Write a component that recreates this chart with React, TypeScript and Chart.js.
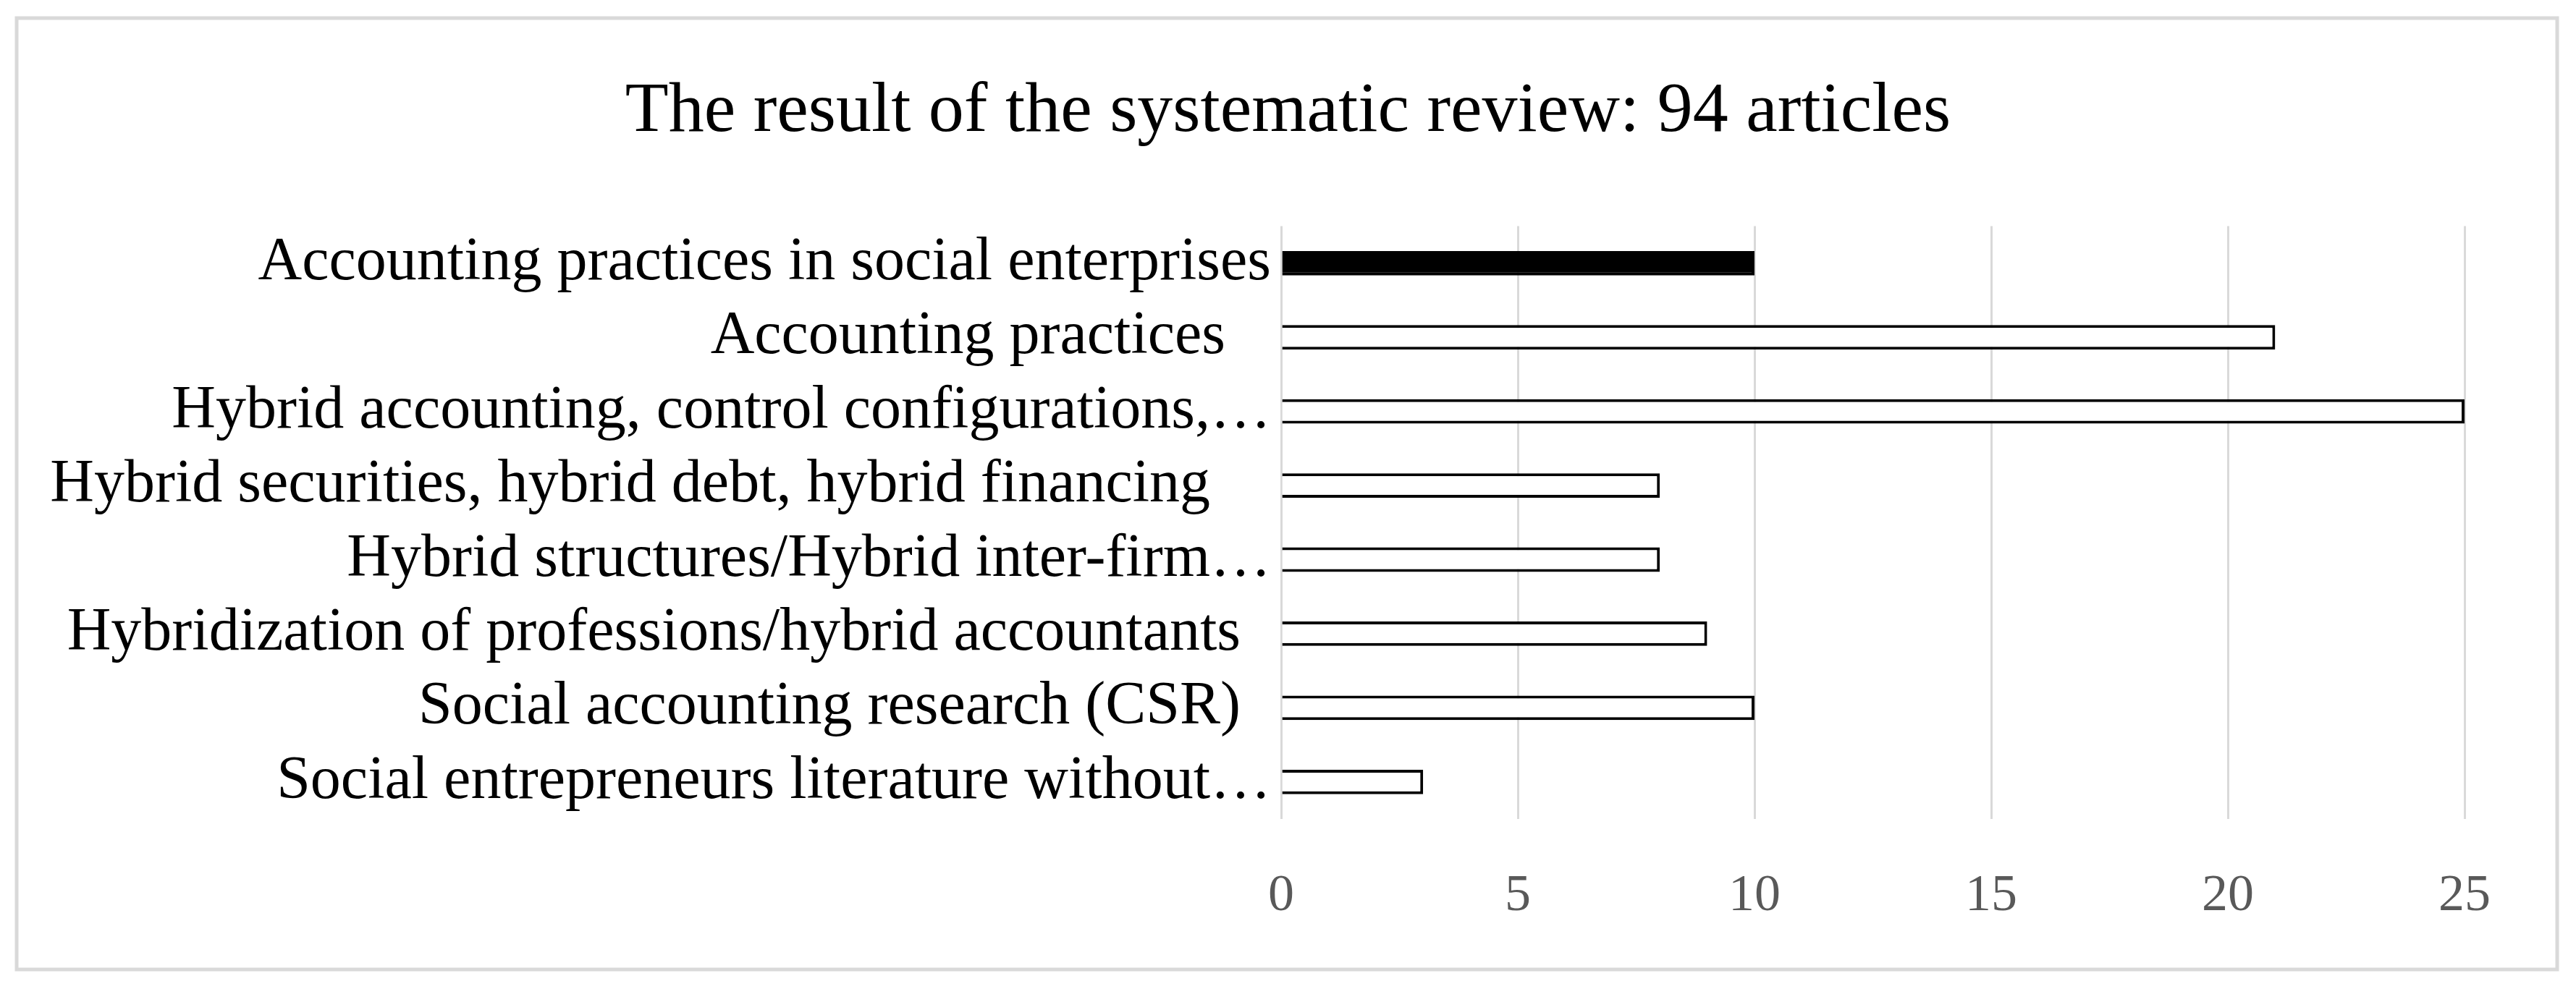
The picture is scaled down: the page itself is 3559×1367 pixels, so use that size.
import React, { useEffect, useRef } from 'react';
import { Chart, registerables } from 'chart.js';

Chart.register(...registerables);

const titleText = 'The result of the systematic review: 94 articles';
const categories = [
  'Accounting practices in social enterprises',
  'Accounting practices   ',
  'Hybrid accounting, control configurations,…',
  'Hybrid securities, hybrid debt, hybrid financing    ',
  'Hybrid structures/Hybrid inter-firm…',
  'Hybridization of professions/hybrid accountants  ',
  'Social accounting research (CSR)  ',
  'Social entrepreneurs literature without…',
];
const articleCounts = [10, 21, 25, 8, 8, 9, 10, 3];
const highlightIndex = 0;
const xTickValues = [0, 5, 10, 15, 20, 25];

const FONT = "'Liberation Serif', 'Times New Roman', serif";

const frame = {
  id: 'frame',
  beforeDraw(chart: any) {
    const ctx = chart.ctx;
    ctx.save();
    ctx.fillStyle = '#ffffff';
    ctx.fillRect(0, 0, chart.width, chart.height);
    ctx.strokeStyle = '#d9d9d9';
    ctx.lineWidth = 5;
    ctx.strokeRect(23, 25, 3510, 1315);
    ctx.restore();
  },
};

export default function App() {
  const ref = useRef<HTMLCanvasElement | null>(null);
  useEffect(() => {
    if (!ref.current) return;
    const chart = new Chart(ref.current, {
      type: 'bar',
      data: {
        labels: categories,
        datasets: [
          {
            data: articleCounts,
            backgroundColor: articleCounts.map((_, i) => (i === highlightIndex ? '#000000' : '#ffffff')),
            borderColor: '#000000',
            borderWidth: 4,
            categoryPercentage: 1,
            barPercentage: 0.33,
          },
        ],
      },
      options: {
        indexAxis: 'y',
        animation: false,
        responsive: true,
        maintainAspectRatio: false,
        layout: { padding: { left: 0, right: 0, top: 0, bottom: 0 } },
        plugins: {
          legend: { display: false },
          tooltip: { enabled: false },
          title: {
            display: true,
            text: titleText,
            color: '#000000',
            font: { family: FONT, size: 98, weight: 'normal', lineHeight: 1.2 },
            padding: { top: 96, bottom: 99 },
          },
        },
        scales: {
          x: {
            type: 'linear',
            min: 0,
            max: 25,
            afterBuildTicks: (s: any) => {
              s.ticks = xTickValues.map((v) => ({ value: v }));
            },
            afterFit: (s: any) => {
              s.height = 235;
            },
            grid: { color: '#d9d9d9', lineWidth: 3, drawTicks: false },
            border: { display: false },
            ticks: {
              color: '#595959',
              padding: 64,
              font: { family: FONT, size: 72, lineHeight: 1.2 },
            },
          },
          y: {
            type: 'category',
            afterFit: (s: any) => {
              s.width = 1770;
            },
            grid: { display: false, drawTicks: false },
            border: { display: false },
            ticks: {
              color: '#000000',
              padding: 14,
              autoSkip: false,
              font: { family: FONT, size: 84, lineHeight: 1.2 },
            },
          },
          yRight: {
            type: 'category',
            position: 'right',
            afterFit: (s: any) => {
              s.width = 154;
            },
            grid: { display: false, drawTicks: false },
            border: { display: false },
            ticks: { display: false },
          },
        },
      },
      plugins: [frame],
    });
    return () => chart.destroy();
  }, []);
  return (
    <div style={{ position: 'absolute', left: 0, top: 0, width: 3559, height: 1367 }}>
      <canvas ref={ref} />
    </div>
  );
}
